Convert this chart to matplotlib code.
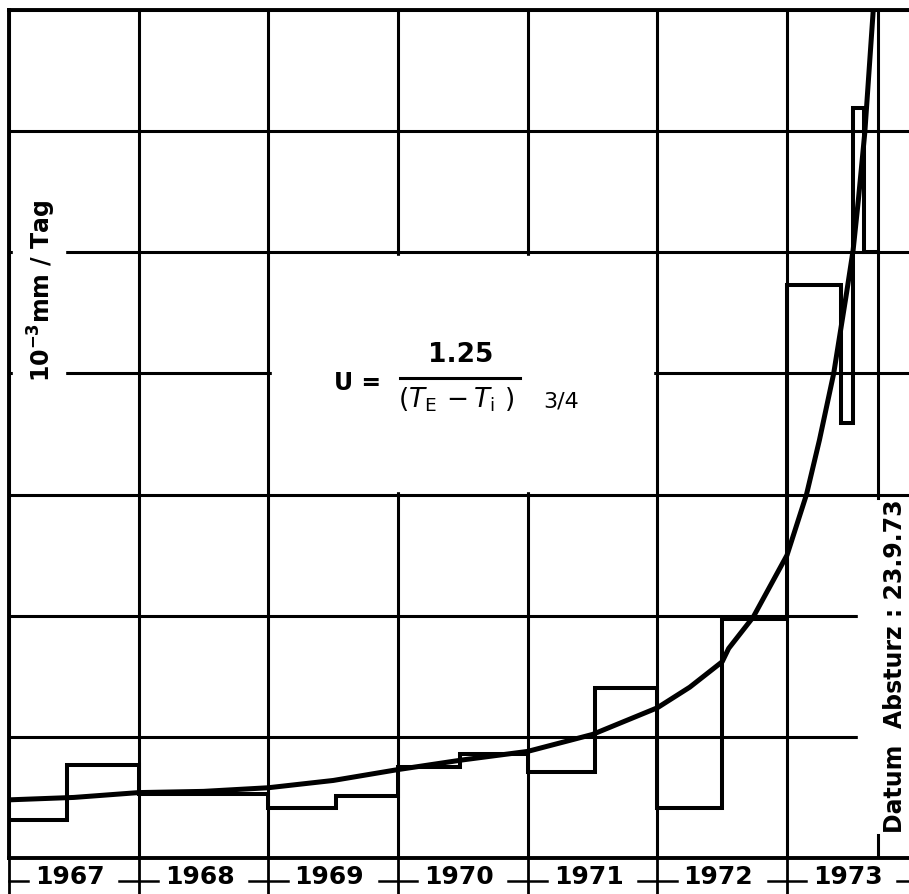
import numpy as np
import matplotlib.pyplot as plt
from matplotlib.patches import Rectangle

# year boundaries and labels
years = [1967, 1968, 1969, 1970, 1971, 1972, 1973, 1974]
year_labels = ['1967', '1968', '1969', '1970', '1971', '1972', '1973']

# measured rates (10^-3 mm / Tag), step function
step_edges = [1967.0, 1967.45, 1968.0, 1969.0, 1969.52, 1970.0, 1970.48, 1971.0,
              1971.52, 1972.0, 1972.5, 1973.0, 1973.42, 1973.51, 1973.59, 1973.70]
step_rate = [0.31, 0.77, 0.53, 0.41, 0.51, 0.75, 0.86, 0.71,
             1.40, 0.41, 1.97, 4.73, 3.59, 6.19, 5.00]

# fitted curve U = 1.25/(T_E - T_i)^(3/4)
curve_t = [1967.0, 1967.5, 1968.0, 1968.5, 1969.0, 1969.5, 1970.0, 1970.5,
           1971.0, 1971.5, 1972.0, 1972.25, 1972.5, 1972.55, 1972.74, 1973.0,
           1973.15, 1973.25, 1973.36, 1973.46, 1973.51, 1973.55, 1973.60, 1973.665]
curve_u = [0.48, 0.50, 0.54, 0.55, 0.58, 0.64, 0.73, 0.81,
           0.88, 1.02, 1.24, 1.41, 1.62, 1.73, 1.99, 2.50,
           3.00, 3.45, 4.00, 4.67, 5.02, 5.43, 5.99, 7.0]

t_crash = 1973.70
crash_label = 'Datum  Absturz : 23.9.73'

fig = plt.figure(figsize=(9.09, 8.94), dpi=100)
ax = fig.add_axes([9 / 909, 36 / 894, 900 / 909, 848 / 894])
ax.set_xlim(1967.0, 1967 + 900 / 129.67)
ax.set_ylim(0, 7)

# grid
ax.set_xticks(years[:-1])
ax.set_xticklabels([''] * 7)
ax.set_xticks([y + 0.47 for y in years[:-1]], minor=True)
ax.set_xticklabels(year_labels, minor=True, fontsize=18, fontweight='bold')
ax.tick_params(axis='x', which='both', length=0, pad=5)
ax.set_yticks(range(8))
ax.set_yticklabels([])
ax.tick_params(axis='y', length=0)
ax.grid(True, color='black', lw=2.2, zorder=1)
ax.set_axisbelow(True)

for side in ['left', 'top', 'bottom']:
    ax.spines[side].set_linewidth(2.8)
ax.spines['right'].set_visible(False)

# "+" marks between the year labels
for y in years:
    ax.plot([y, y], [0, -0.3], color='black', lw=2.0, clip_on=False, zorder=5)
    ax.plot([max(y - 0.15, years[0]), y + 0.15], [-0.19, -0.19], color='black',
            lw=1.8, clip_on=False, zorder=5)

# blank areas
ax.add_patch(Rectangle((1967.03, 3.93), 0.40, 1.6, color='white', zorder=2))
ax.add_patch(Rectangle((1969.03, 3.03), 2.94, 1.94, color='white', zorder=2))
ax.add_patch(Rectangle((1973.55, 0.2), 0.5, 2.65, color='white', zorder=2))

# data
ax.stairs(step_rate, step_edges, baseline=None, color='black', lw=2.9, zorder=3)
ax.plot(curve_t, curve_u, color='black', lw=3.6, zorder=4)

# crash date marker
ax.plot([t_crash, t_crash], [2.97, 7], color='black', lw=2.2, zorder=4)
ax.plot([t_crash, t_crash], [0, 0.19], color='black', lw=2.2, zorder=4)
ax.text(1973.835, 1.58, crash_label, rotation=90, ha='center', va='center',
        fontsize=17, fontweight='bold', zorder=5)

# y label
ax.text(1967.25, 4.68, r'$\mathbf{10^{-3}}$mm / Tag', rotation=90, ha='center',
        va='center', fontsize=17, fontweight='bold', zorder=5)

# formula
ax.text(1969.69, 3.92, 'U =', ha='center', va='center', fontsize=17, fontweight='bold')
ax.plot([1970.015, 1970.94], [3.96, 3.96], color='black', lw=2.2, zorder=5)
ax.text(1970.48, 4.15, '1.25', ha='center', va='center', fontsize=19, fontweight='bold')
ax.text(1970.45, 3.78, r'$(T_{\mathrm{E}}\,-T_{\mathrm{i}}\ )$', ha='center', va='center',
        fontsize=19)
ax.text(1971.26, 3.77, '3/4', ha='center', va='center', fontsize=16)

plt.savefig('out.png', dpi=100)
